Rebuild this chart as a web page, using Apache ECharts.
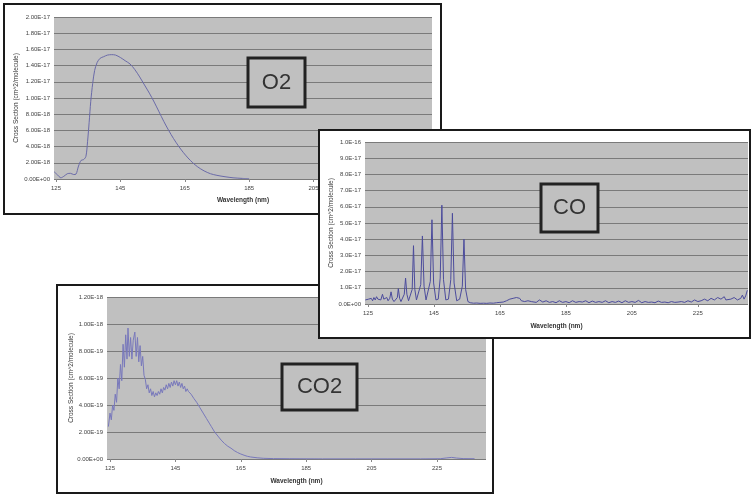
<!DOCTYPE html>
<html><head><meta charset="utf-8">
<script src="https://cdn.jsdelivr.net/npm/echarts@6/dist/echarts.min.js"></script>
<style>html,body{margin:0;padding:0;background:#fff}#c{width:752px;height:496px}</style>
</head><body><div id="c"></div>
<script>
// ---- tick labels ----
const xTickValues = [125, 145, 165, 185, 205, 225];
const o2YLabels = ['0.00E+00','2.00E-18','4.00E-18','6.00E-18','8.00E-18','1.00E-17','1.20E-17','1.40E-17','1.60E-17','1.80E-17','2.00E-17'];
const coYLabels = ['0.0E+00','1.0E-17','2.0E-17','3.0E-17','4.0E-17','5.0E-17','6.0E-17','7.0E-17','8.0E-17','9.0E-17','1.0E-16'];
const co2YLabels = ['0.00E+00','2.00E-19','4.00E-19','6.00E-19','8.00E-19','1.00E-18','1.20E-18'];

// ---- O2 (values in 1E-18 cm^2/molecule) ----
const o2Wavelength = [124.4,125.5,126.5,127.5,128.5,129.5,130.5,131.2,132,132.8,133.6,134.3,134.8,135.3,135.8,136.4,137,137.8,138.7,139.8,141,142.3,143.5,145,146.5,148,149.5,151,152.5,154,155.5,157,158.5,160,161.5,163,164.5,166,167.5,169,171,173,175,177.5,180,183,185];
const o2Value = [0.9,0.5,0.15,0.35,0.65,0.7,0.55,0.6,1.6,2.3,2.4,2.8,4.6,7.0,9.6,11.8,13.4,14.4,14.9,15.1,15.3,15.35,15.3,15.0,14.6,14.2,13.5,12.6,11.6,10.6,9.5,8.3,7.1,6.0,5.0,4.1,3.3,2.6,2.0,1.5,1.0,0.65,0.45,0.28,0.15,0.07,0.04];

// ---- CO (values in 1E-17 cm^2/molecule) ----
const coWavelength = [124.2,124.7,125.2,125.6,126.0,126.4,126.8,127.2,127.6,128.0,128.5,128.9,129.4,129.8,130.3,130.7,131.1,131.6,132.0,132.4,132.9,133.4,133.9,134.2,134.6,135.0,135.5,136.0,136.4,136.8,137.3,137.8,138.4,138.8,139.2,139.7,140.3,141.0,141.5,142.0,142.6,143.2,143.9,144.4,144.9,145.6,146.3,146.9,147.4,147.9,148.6,149.4,150.1,150.6,151.1,151.9,152.8,153.6,154.1,154.6,155.3,156,157,158,159,160,161,162,163,164,165,166,167,167.5,168,168.5,169,169.5,170,170.5,171,171.5,172,172.5,173,173.5,174,174.5,175,176,177,178,179,180,181,182,183,184,185,186,187,188,189,190,191,192,193,194,195,196,197,198,199,200,201,202,203,204,205,206,207,208,209,210,211,212,213,214,215,216,217,218,219,220,221,222,223,224,225,226,227,228,229,229.5,230,231,232,233,233.5,234,235,236,236.5,237,238,238.5,239,239.5,240];
const coValue = [0.25,0.15,0.3,0.2,0.35,0.2,0.4,0.25,0.45,0.3,0.35,0.25,0.6,0.3,0.25,0.4,0.2,0.35,0.75,0.3,0.15,0.2,0.4,0.95,0.35,0.15,0.2,0.6,1.6,0.6,0.2,0.25,0.9,3.6,0.9,0.25,0.3,1.2,4.2,1.1,0.25,0.3,1.4,5.2,1.3,0.25,0.3,1.6,6.1,1.5,0.25,0.3,1.5,5.6,1.3,0.2,0.3,1.1,4.0,0.9,0.15,0.08,0.05,0.06,0.04,0.05,0.04,0.06,0.05,0.08,0.1,0.12,0.2,0.15,0.3,0.2,0.35,0.25,0.4,0.3,0.35,0.2,0.3,0.15,0.25,0.2,0.3,0.15,0.2,0.1,0.25,0.12,0.2,0.1,0.15,0.08,0.2,0.1,0.15,0.08,0.2,0.1,0.15,0.12,0.2,0.08,0.18,0.1,0.15,0.1,0.2,0.08,0.15,0.1,0.18,0.08,0.2,0.1,0.15,0.1,0.22,0.08,0.15,0.1,0.12,0.08,0.18,0.1,0.12,0.08,0.15,0.1,0.12,0.15,0.1,0.2,0.12,0.25,0.15,0.2,0.3,0.2,0.35,0.45,0.25,0.4,0.3,0.45,0.25,0.35,0.3,0.4,0.5,0.25,0.35,0.55,0.3,0.5,0.85];

// ---- CO2 (values in 1E-19 cm^2/molecule) ----
const co2Wavelength = [124.5,125,125.4,125.8,126.2,126.6,127,127.4,127.8,128.2,128.6,129,129.4,129.8,130.2,130.5,130.9,131.3,131.7,132.1,132.6,133,133.4,133.8,134.2,134.6,135,135.4,135.8,136.2,136.6,137,137.4,137.8,138.2,138.6,139,139.4,139.8,140.2,140.6,141,141.4,141.8,142.2,142.6,143,143.4,143.8,144.2,144.6,145,145.4,145.8,146.2,146.6,147,147.4,147.8,148.2,148.6,149,149.4,149.8,150.2,150.6,151,151.5,152,152.5,153,153.5,154,154.5,155,155.5,156,157,158,159,160,161,162,163,164,165,166,167,168,170,172,175,180,190,200,210,220,226,228,229.5,231,233,236.5];
const co2Value = [2.4,3.4,2.9,4.0,3.6,4.8,4.2,6.0,5.2,7.0,5.8,8.5,6.8,9.2,7.4,9.7,7.6,9.0,7.4,8.8,9.4,7.6,9.0,7.2,8.4,6.9,7.6,6.2,5.9,5.2,5.5,4.9,5.2,4.7,5.0,4.6,4.9,4.7,5.0,4.8,5.2,4.9,5.3,5.1,5.5,5.2,5.6,5.3,5.7,5.4,5.8,5.5,5.8,5.4,5.7,5.3,5.6,5.2,5.4,5.0,5.2,5.0,5.1,4.8,4.9,4.5,4.6,4.2,4.2,3.8,3.7,3.4,3.3,3.0,2.9,2.6,2.4,2.0,1.7,1.4,1.15,0.95,0.8,0.62,0.48,0.37,0.28,0.2,0.15,0.09,0.05,0.03,0.02,0.01,0.01,0.01,0.01,0.02,0.08,0.12,0.07,0.03,0.02];

const FONT = '"Liberation Sans", Arial, sans-serif';
const zip = (xs, ys) => xs.map((x, i) => [x, ys[i]]);

const panels = [
  { zl: 0, box: [4, 4, 437, 210], grid: [54, 17, 378, 162], xr: [124.38, 241.8], yMax: 20, yInt: 2, labels: o2YLabels,
    data: zip(o2Wavelength, o2Value), color: '#6a6aa8', smooth: 0.3, yGap: 34, xGap: 18,
    tag: 'O2', tagBox: [248, 58, 57, 49] },
  { zl: 2, box: [319, 130, 431, 208], grid: [365, 142, 383, 162], xr: [124.1, 240.2], yMax: 10, yInt: 1, labels: coYLabels,
    data: zip(coWavelength, coValue), color: '#4c4c9c', smooth: false, yGap: 30, xGap: 19,
    tag: 'CO', tagBox: [541, 184, 57, 48] },
  { zl: 1, box: [57, 285, 436, 208], grid: [107, 297, 379, 162], xr: [124.08, 240.0], yMax: 12, yInt: 2, labels: co2YLabels,
    data: zip(co2Wavelength, co2Value), color: '#7878bb', smooth: false, yGap: 32, xGap: 19,
    tag: 'CO2', tagBox: [282, 364, 75, 46] }
];

const option = { animation: false, grid: [], xAxis: [], yAxis: [], series: [], graphic: { elements: [] } };
panels.forEach((p, i) => {
  option.grid.push({ left: p.grid[0], top: p.grid[1], width: p.grid[2], height: p.grid[3], show: true,
    backgroundColor: '#c0c0c0', borderWidth: 0, zlevel: p.zl, z: 1 });
  option.xAxis.push({ gridIndex: i, type: 'value', min: p.xr[0], max: p.xr[1], zlevel: p.zl, z: 2,
    axisLine: { show: false }, splitLine: { show: false },
    axisTick: { show: true, customValues: xTickValues, length: 3, lineStyle: { color: '#888' } },
    axisLabel: { customValues: xTickValues, fontSize: 6, color: '#444', margin: 6, fontFamily: FONT },
    name: 'Wavelength (nm)', nameLocation: 'middle', nameGap: p.xGap, nameMoveOverlap: false,
    nameTextStyle: { fontSize: 6.5, fontWeight: 'bold', color: '#333', fontFamily: FONT } });
  option.yAxis.push({ gridIndex: i, type: 'value', min: 0, max: p.yMax, interval: p.yInt, zlevel: p.zl, z: 2,
    axisLine: { show: false }, axisTick: { show: false },
    splitLine: { lineStyle: { color: '#7a7a7a', width: 1 } },
    axisLabel: { fontSize: 6, color: '#444', margin: 4, fontFamily: FONT,
      formatter: v => p.labels[Math.round(v / p.yInt)] },
    name: 'Cross Section (cm^2/molecule)', nameLocation: 'middle', nameGap: p.yGap, nameMoveOverlap: false,
    nameTextStyle: { fontSize: 6.5, color: '#333', fontFamily: FONT } });
  option.series.push({ type: 'line', xAxisIndex: i, yAxisIndex: i, data: p.data, showSymbol: false,
    smooth: p.smooth, zlevel: p.zl, z: 3, lineStyle: { color: p.color, width: 1 } });
  option.graphic.elements.push({ type: 'rect', zlevel: p.zl, z: 0, silent: true,
    shape: { x: p.box[0], y: p.box[1], width: p.box[2], height: p.box[3] },
    style: { fill: '#ffffff', stroke: '#1a1a1a', lineWidth: 2 } });
  option.graphic.elements.push({ type: 'rect', zlevel: p.zl, z: 10, silent: true,
    shape: { x: p.tagBox[0], y: p.tagBox[1], width: p.tagBox[2], height: p.tagBox[3] },
    style: { fill: '#c0c0c0', stroke: '#222', lineWidth: 3 } });
  option.graphic.elements.push({ type: 'text', zlevel: p.zl, z: 11, silent: true,
    x: p.tagBox[0] + p.tagBox[2] / 2, y: p.tagBox[1] + p.tagBox[3] / 2,
    style: { text: p.tag, fill: '#333', font: '22px ' + FONT, align: 'center', verticalAlign: 'middle' } });
});

const chart = echarts.init(document.getElementById('c'));
chart.setOption(option);
</script>
</body></html>
